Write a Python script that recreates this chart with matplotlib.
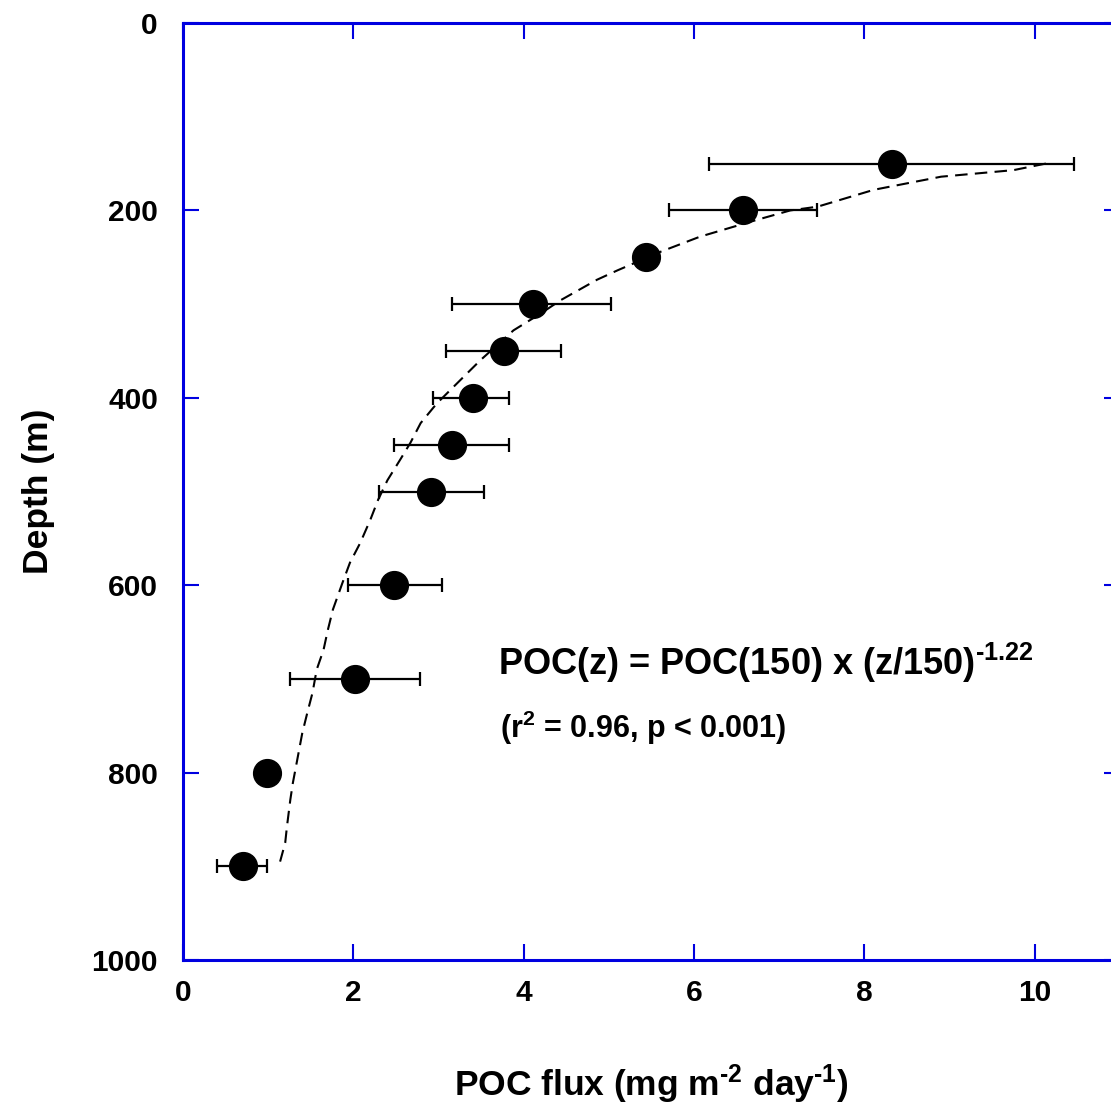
import numpy as np
import matplotlib
matplotlib.use("Agg")
import matplotlib.pyplot as plt

plt.rcParams['font.family'] = ['Liberation Sans', 'DejaVu Sans']
plt.rcParams['font.weight'] = 'bold'
plt.rcParams['mathtext.fontset'] = 'custom'
plt.rcParams['mathtext.rm'] = 'Liberation Sans:bold'
plt.rcParams['mathtext.bf'] = 'Liberation Sans:bold'
plt.rcParams['mathtext.default'] = 'bf'

# measured flux vs depth
depth = [150, 200, 250, 300, 350, 400, 450, 500, 600, 700, 800, 900]
flux = [8.32, 6.58, 5.44, 4.11, 3.77, 3.40, 3.16, 2.91, 2.48, 2.02, 0.99, 0.71]
err_lo = [6.17, 5.71, 5.44, 3.16, 3.09, 2.94, 2.48, 2.30, 1.94, 1.26, 0.99, 0.40]
err_hi = [10.46, 7.44, 5.44, 5.02, 4.44, 3.83, 3.83, 3.53, 3.04, 2.78, 0.99, 0.99]

# fitted curve
fit_depth = [150, 157, 164, 178, 196, 200, 210, 228, 244, 264, 274, 296, 310, 328,
             360, 378, 406, 427, 448, 466, 488, 509, 530, 555, 576, 598, 626, 648,
             669, 690, 715, 736, 758, 787, 811, 829, 858, 875, 895]
fit_flux = [10.13, 9.75, 8.90, 8.11, 7.45, 7.13, 6.74, 6.07, 5.61, 5.10, 4.86, 4.43,
            4.20, 3.88, 3.49, 3.29, 2.98, 2.79, 2.67, 2.55, 2.40, 2.29, 2.20, 2.08,
            1.96, 1.87, 1.76, 1.70, 1.65, 1.57, 1.52, 1.46, 1.40, 1.34, 1.29, 1.26,
            1.22, 1.20, 1.14]

xticks = [0, 2, 4, 6, 8, 10]
yticks = [0, 200, 400, 600, 800, 1000]

blue = '#0000e0'

fig = plt.figure(figsize=(11.11, 11.07), dpi=100)
ax = fig.add_axes([0.1647, 0.1328, 0.8434, 0.8464])

flux = np.array(flux)
xerr = np.array([flux - np.array(err_lo), np.array(err_hi) - flux])
ax.plot(fit_flux, fit_depth, color='black', lw=1.5, dashes=(6, 3.5), zorder=2)
ax.errorbar(flux, depth, xerr=xerr, fmt='o', color='black', ms=20, ecolor='black',
            elinewidth=1.6, capsize=5, capthick=1.6, zorder=3)

ax.set_xlim(0, 11)
ax.set_ylim(1000, 0)
ax.set_xticks(xticks)
ax.set_yticks(yticks)
ax.tick_params(direction='in', length=11.5, width=1.5, color=blue, labelsize=21.5,
               top=True, right=True)
ax.tick_params(axis='x', pad=14)
ax.tick_params(axis='y', pad=18)
for s in ax.spines.values():
    s.set_color(blue)
    s.set_linewidth(2.2)

ax.set_xlabel(r'POC flux (mg m$^{\text{-2}}$ day$^{\text{-1}}$)', fontsize=25.5,
              fontweight='bold', labelpad=40)
ax.set_ylabel('Depth (m)', fontsize=25.5, fontweight='bold', labelpad=26)

ax.text(3.70, 696, r'POC(z) = POC(150) x (z/150)$^{\text{-1.22}}$', fontsize=26,
        fontweight='bold', va='baseline')
ax.text(3.72, 763, '(r$^{2}$ = 0.96, p < 0.001)', fontsize=22,
        fontweight='bold', va='baseline')

fig.savefig('out.png', dpi=100)
